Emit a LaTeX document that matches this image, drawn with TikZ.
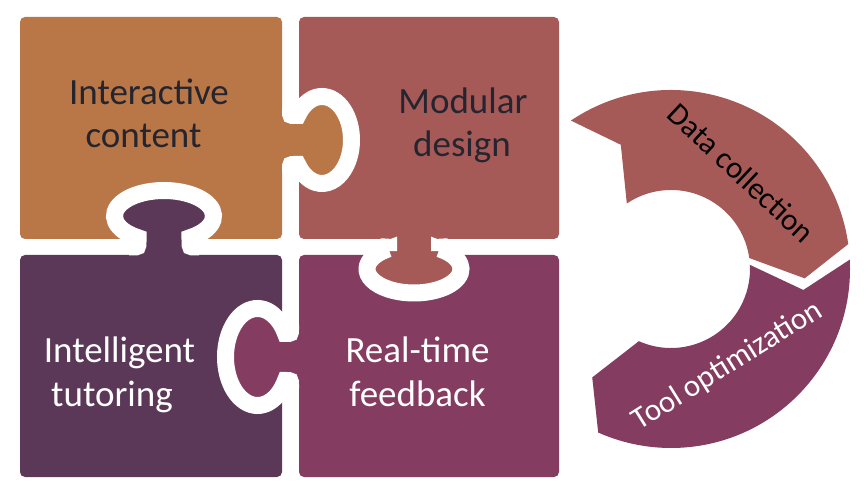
\documentclass[tikz,border=0pt]{standalone}
\usepackage{fontspec}
\setmainfont{Carlito}
\definecolor{corange}{HTML}{B97647}
\definecolor{cmauve}{HTML}{A65A58}
\definecolor{cpurple}{HTML}{5C3858}
\definecolor{cmagenta}{HTML}{843C60}
\definecolor{cdark}{HTML}{25252F}
% knob: #1 colour, #2 half neck, #3 fillet, #4 head half width, #5 head radius along normal, #6 head centre distance
\newcommand\puzknob[6]{%
  \pgfmathsetmacro\kA{180+acos(#2/#4)}%
  \pgfmathsetmacro\kB{180-\kA}%
  \pgfmathsetmacro\kT{#6-#5*sin(acos(#2/#4))}%
  \fill[#1] (-#2-#3,-12) -- (-#2-#3,0) .. controls (-#2,0) .. (-#2,#3) -- (-#2,\kT)
     arc[start angle=\kA, end angle=\kB, x radius=#4, y radius=#5]
     -- (#2,#3) .. controls (#2,0) .. (#2+#3,0) -- (#2+#3,-12) -- cycle;
  \draw[gapline] (-#2-#3-4,0) -- (-#2-#3,0) .. controls (-#2,0) .. (-#2,#3) -- (-#2,\kT)
     arc[start angle=\kA, end angle=\kB, x radius=#4, y radius=#5]
     -- (#2,#3) .. controls (#2,0) .. (#2+#3,0) -- (#2+#3+4,0);
}
\tikzset{
  piece/.style={rounded corners=5pt},
  gapline/.style={white, line width=17pt},
  bigtext/.style={font=\fontsize{37}{44}\selectfont, inner sep=0pt, anchor=base},
  ringtext/.style={font=\fontsize{31}{37}\selectfont, inner sep=0pt, anchor=center},
}
\begin{document}
\begin{tikzpicture}[x=1pt,y=1pt]
\useasboundingbox (0,0) rectangle (868,493);
% pieces
\fill[corange, piece] (20,254) rectangle (282,476);
\fill[cmauve, piece] (299,254) rectangle (559,476);
\fill[cpurple, piece] (20,16) rectangle (282,238);
\fill[cmagenta, piece] (299,16) rectangle (559,238);
% knobs
\begin{scope}[shift={(290.5,353)}, rotate=-90]
  \puzknob{corange}{24.5}{4}{43.5}{29.5}{31.5}
\end{scope}
\begin{scope}[shift={(164,246)}]
  \puzknob{cpurple}{26}{5}{49.5}{25.5}{31}
\end{scope}
\begin{scope}[shift={(414,246)}, rotate=180]
  \puzknob{cmauve}{25.5}{4}{47}{24}{22}
\end{scope}
\begin{scope}[shift={(290.5,136)}, rotate=90]
  \puzknob{cmagenta}{23.5}{4}{48.5}{32}{33}
\end{scope}
% texts
\node[bigtext, text=cdark] (t1a) at (149,388) {Interactive};
\node[bigtext, text=cdark] (t1b) at (143.5,345) {content};
\node[bigtext, text=cdark] (t2a) at (463,379) {Modular};
\node[bigtext, text=cdark] (t2b) at (462,336) {design};
\node[bigtext, text=white] (t3a) at (119.5,130) {Intelligent};
\node[bigtext, text=white] (t3b) at (112,86) {tutoring};
\node[bigtext, text=white] (t4a) at (417.5,130) {Real-time};
\node[bigtext, text=white] (t4b) at (417.5,86) {feedback};
% ring
\begin{scope}[shift={(671,224)}]
  \fill[cmauve] (124:179) arc[start angle=124, end angle=8, radius=179]
    -- (-4:134) -- (8:79) arc[start angle=8, end angle=124, radius=79]
    -- (112:134) -- cycle;
  \fill[cmagenta] (3:179) arc[start angle=3, end angle=-114, radius=179]
    -- (-126:134) -- (-114:79) arc[start angle=-114, end angle=3, radius=79]
    -- (-9:134) -- cycle;
\end{scope}
\node[ringtext, text=black, rotate=-43] (dc) at (741.5,320) {Data collection};
\node[ringtext, text=white, rotate=32] (to) at (727.5,127) {Tool optimization};
\end{tikzpicture}
\end{document}
